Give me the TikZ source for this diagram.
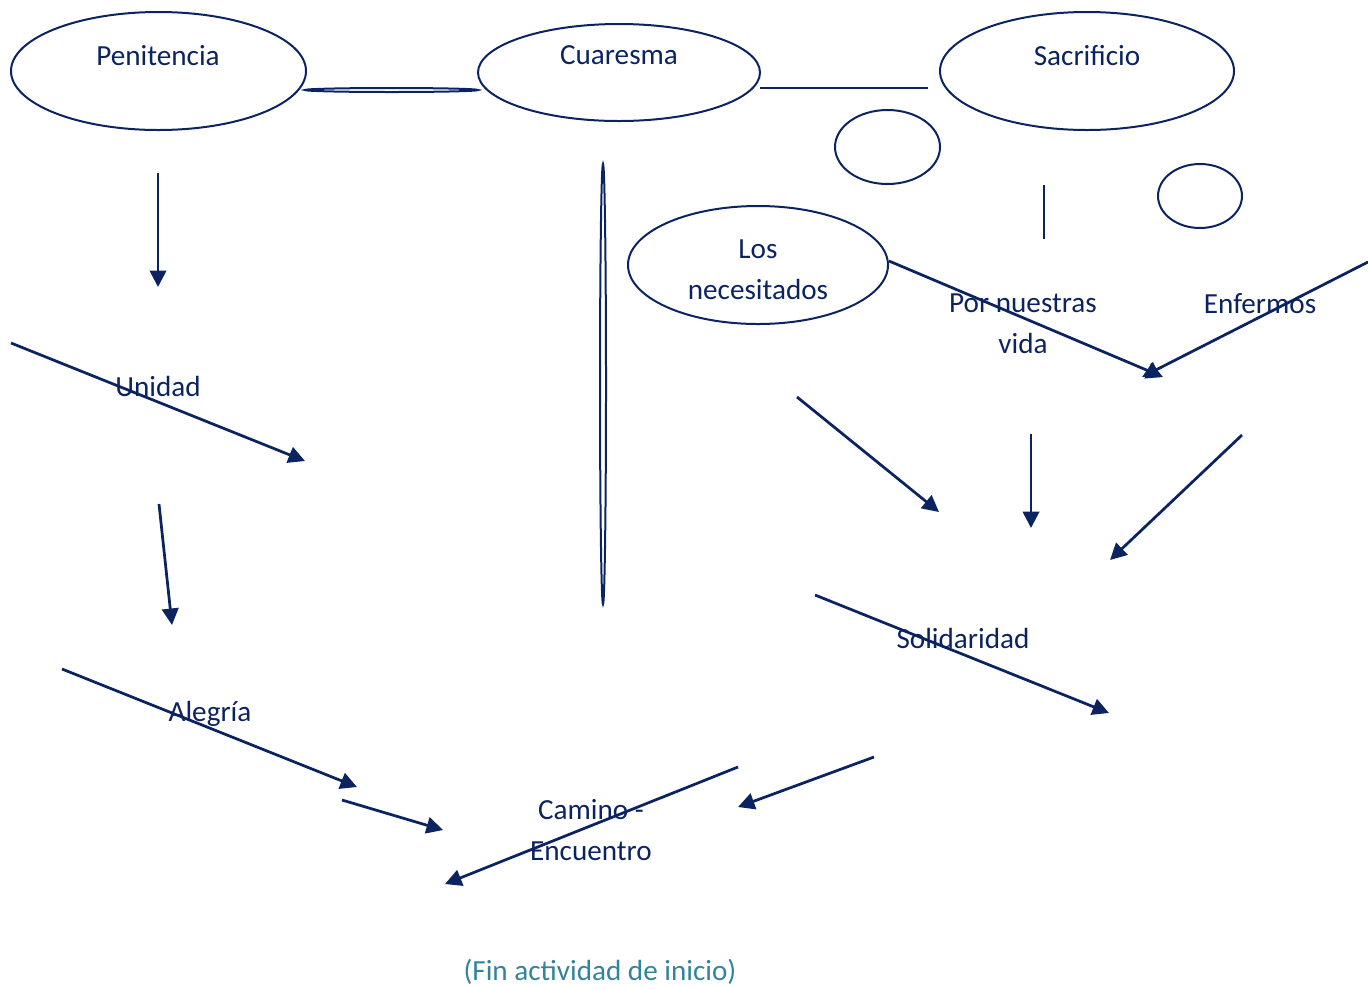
\documentclass[tikz,border=0pt]{standalone}
\usepackage{fontspec}
\setmainfont{Carlito}
\usetikzlibrary{arrows.meta,shapes.geometric}
\definecolor{navy}{HTML}{0B2461}
\definecolor{fintxt}{HTML}{31849B}
\newlength\unitpx
\setlength\unitpx{0.02cm}

\begin{document}
\begin{tikzpicture}[x=0.02cm,y=-0.02cm,
                    bubble/.style={ellipse,draw=navy,line width=0.04cm,inner sep=0pt},
                    word/.style={text=navy,font=\fontsize{16.6}{23.3}\selectfont,align=center,inner sep=0pt},
                    arrow/.style={draw=navy,line width=0.055cm,-{Triangle[length=0.33cm,width=0.33cm]}},
                    bar/.style={draw=navy,line width=0.05cm}]
  \useasboundingbox (0,0) rectangle (1368,988);

  % ellipses
  \node[bubble,minimum width=295\unitpx,minimum height=118\unitpx] (pen) at (158.5,71) {};
  \node[bubble,minimum width=282\unitpx,minimum height=97\unitpx]  (cua) at (619,72.5) {};
  \node[bubble,minimum width=294\unitpx,minimum height=118\unitpx] (sac) at (1087,71) {};
  \node[bubble,minimum width=105\unitpx,minimum height=74\unitpx]  (circ1) at (887.5,147) {};
  \node[bubble,minimum width=84\unitpx,minimum height=64\unitpx]   (circ2) at (1200,196) {};
  \node[bubble,minimum width=260\unitpx,minimum height=118\unitpx] (los) at (758,265) {};
  \node[bubble,minimum width=173\unitpx,minimum height=4\unitpx]   (flat) at (391.5,90) {};
  \node[bubble,minimum width=6\unitpx,minimum height=440\unitpx]   (tall) at (603,384) {};

  % texts
  \node[word] (pentext) at (158,56)  {Penitencia};
  \node[word] (cuatext) at (619,55)  {Cuaresma};
  \node[word] (sactext) at (1087,56) {Sacrificio};
  \node[word] (lostext) at (758,270) {Los\\necesitados};
  \node[word] (por)     at (1023,324) {Por nuestras\\vida};
  \node[word] (enf)     at (1260,304) {Enfermos};
  \node[word] (uni)     at (158,386) {Unidad};
  \node[word] (ale)     at (210,714) {Alegría};
  \node[word] (sol)     at (963,638) {Solidaridad};
  \node[word] (cam)     at (591,830) {Camino -\\Encuentro};
  \node[word,text=fintxt] (fin) at (600,972) {(Fin actividad de inicio)};

  % loose ends
  \coordinate (c1) at (760,88);   \coordinate (c2) at (928,88);
  \coordinate (s1) at (1044,185); \coordinate (s2) at (1044,239);
  \coordinate (a1) at (158,173);  \coordinate (a2) at (158,287);
  \coordinate (b1) at (11,343);   \coordinate (b2) at (305,461);
  \coordinate (d1) at (159,504);  \coordinate (d2) at (172,625);
  \coordinate (e1) at (62,669);   \coordinate (e2) at (357,787);
  \coordinate (f1) at (342,800);  \coordinate (f2) at (443,830);
  \coordinate (g1) at (738,767);  \coordinate (g2) at (445,884);
  \coordinate (h1) at (874,757);  \coordinate (h2) at (738,807);
  \coordinate (k1) at (1163,377);
  \coordinate (m1) at (1368,262); \coordinate (m2) at (1142,377);
  \coordinate (n1) at (797,397);  \coordinate (n2) at (939,512);
  \coordinate (q1) at (1031,434); \coordinate (q2) at (1031,528);
  \coordinate (r1) at (1242,435); \coordinate (r2) at (1110,560);
  \coordinate (t1) at (815,595);  \coordinate (t2) at (1109,713);

  \path (c1) edge[bar] (c2)
        (s1) edge[bar] (s2)
        (a1) edge[arrow] (a2)
        (b1) edge[arrow] (b2)
        (d1) edge[arrow] (d2)
        (e1) edge[arrow] (e2)
        (f1) edge[arrow] (f2)
        (g1) edge[arrow] (g2)
        (h1) edge[arrow] (h2)
        ([yshift=4\unitpx]los.east) edge[arrow] (k1)
        (m1) edge[arrow] (m2)
        (n1) edge[arrow] (n2)
        (q1) edge[arrow] (q2)
        (r1) edge[arrow] (r2)
        (t1) edge[arrow] (t2);
\end{tikzpicture}
\end{document}
